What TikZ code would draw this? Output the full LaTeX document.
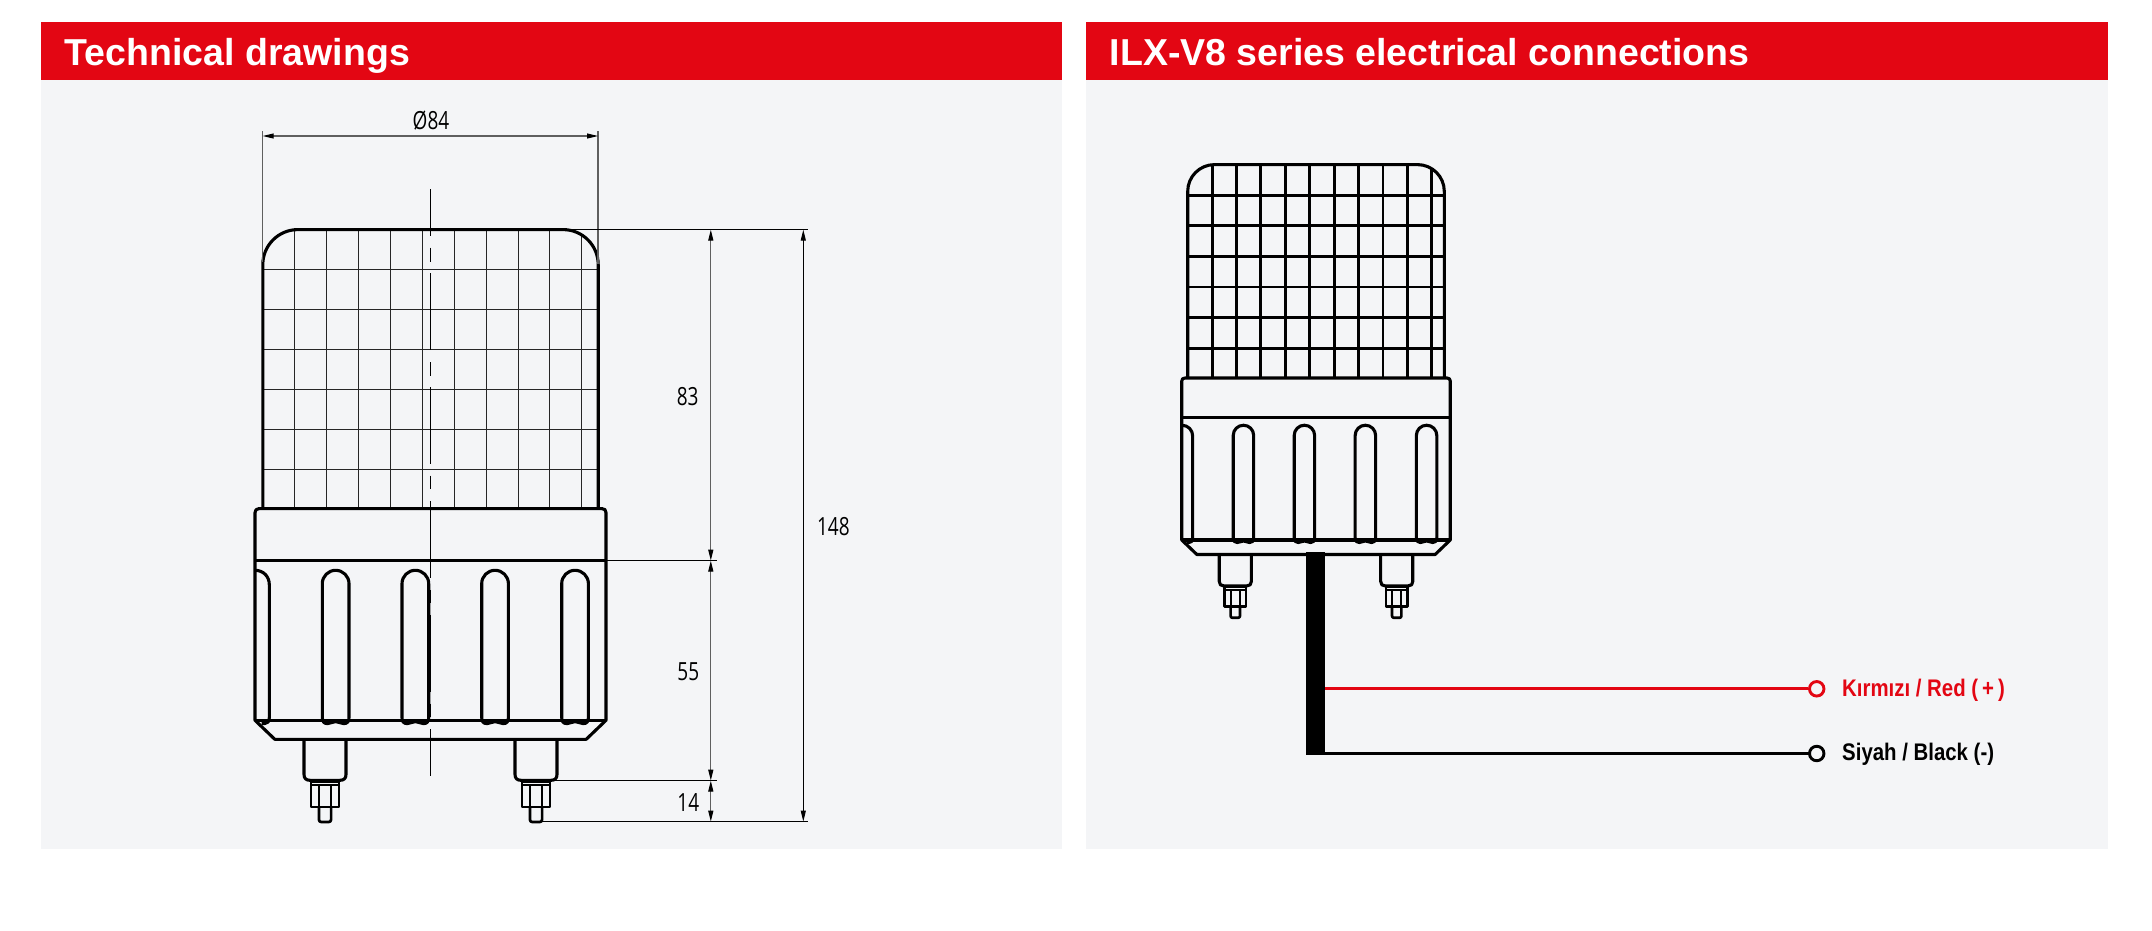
\documentclass[tikz,border=0pt]{standalone}
\usepackage{fontspec}
\usetikzlibrary{arrows.meta}
\setmainfont{Liberation Sans}
\newfontfamily\dimfont[FakeStretch=0.76]{Open Sans}
\newfontfamily\headfont{Liberation Sans}
\newfontfamily\wirefont[FakeStretch=0.85]{Liberation Sans}
\definecolor{brandred}{RGB}{227,6,19}
\definecolor{panelgrey}{RGB}{244,245,247}
\definecolor{dimgrey}{RGB}{95,95,95}
\tikzset{
  panel/.style={fill=panelgrey,draw=none},
  headbar/.style={fill=brandred,draw=none},
  headtext/.style={anchor=base west,inner sep=0pt,text=white,font=\headfont\bfseries\fontsize{37.5}{40}\selectfont},
  dimtext/.style={inner sep=0pt,text=black,font=\dimfont\fontsize{25}{27}\selectfont},
  wiretext/.style={anchor=base west,inner sep=0pt,font=\wirefont\bfseries\fontsize{24}{26}\selectfont},
  outline/.style={line width=3.1pt,black,line join=round},
  gridline/.style={black},
  extline/.style={line width=1pt,black},
  dimline/.style={line width=1pt,black,{Triangle[length=11pt,width=5pt,black]}-{Triangle[length=11pt,width=5pt,black]}},
  greydim/.style={line width=1.1pt,dimgrey,{Triangle[length=11pt,width=5pt,black]}-{Triangle[length=11pt,width=5pt,black]}},
  centreline/.style={line width=1pt,black},
  terminal/.style={circle,draw,line width=2.9pt,fill=panelgrey,minimum size=14.5pt,inner sep=0pt},
}
% lamp body in local coordinates: origin at centre of the dome top
\newcommand{\lampbody}{%
  \begin{scope}
    \clip (-167.7,279) -- (-167.7,35) .. controls (-167.7,15.7) and (-152,0) .. (-132.7,0)
      -- (132.7,0) .. controls (152,0) and (167.7,15.7) .. (167.7,35) -- (167.7,279) -- cycle;
    \foreach \g in {0,...,9} \draw[gridline] ({-135.8+\g*31.9},0) -- ({-135.8+\g*31.9},279);
    \foreach \g in {1,...,6} \draw[gridline] (-167.7,\g*40) -- (167.7,\g*40);
  \end{scope}
  \draw[outline] (-167.7,279) -- (-167.7,35) .. controls (-167.7,15.7) and (-152,0) .. (-132.7,0)
      -- (132.7,0) .. controls (152,0) and (167.7,15.7) .. (167.7,35) -- (167.7,279);
  % collar and base
  \draw[outline] (-175.5,490.7) -- (-175.5,283) .. controls (-175.5,280.5) and (-174,279) .. (-171.5,279)
      -- (171.5,279) .. controls (174,279) and (175.5,280.5) .. (175.5,283) -- (175.5,490.7)
      -- (155.7,509.7) -- (-155.7,509.7) -- cycle;
  \draw[outline] (-175.5,331) -- (175.5,331);
  \draw[outline] (-175.5,490.7) -- (175.5,490.7);
  % flutes
  \foreach \a in {-108.2,-28.5,51.2,131.2}{
    \draw[outline] (\a,488) -- (\a,354) .. controls (\a,346.6) and (\a+6,340.7) .. (\a+13.35,340.7)
      .. controls (\a+20.7,340.7) and (\a+26.7,346.6) .. (\a+26.7,354) -- (\a+26.7,488)
      .. controls (\a+26.7,492) and (\a+25,494) .. (\a+21.5,494)
      .. controls (\a+18,494) and (\a+17,492) .. (\a+13.35,492)
      .. controls (\a+9.7,492) and (\a+8.7,494) .. (\a+5.2,494)
      .. controls (\a+1.7,494) and (\a,492) .. (\a,488) -- cycle;
  }
  \draw[outline] (-175.5,340.7) .. controls (-167,340.7) and (-161.2,347) .. (-161.2,355) -- (-161.2,488)
      .. controls (-161.2,492) and (-163,494) .. (-166,494) -- (-169,494);
  % terminals
  \foreach \c in {-105.5,105.5}{
    \draw[outline] (\c-21,509.7) -- (\c-21,544.7) .. controls (\c-21,548.7) and (\c-19,550.7) .. (\c-15,550.7)
      -- (\c+15,550.7) .. controls (\c+19,550.7) and (\c+21,548.7) .. (\c+21,544.7) -- (\c+21,509.7);
    \draw[outline,line width=2.7pt] (\c-14,551.7) rectangle (\c+14,577.4);
    \draw[outline,line width=2.1pt] (\c-14,555.7) -- (\c+14,555.7);
    \draw[outline,line width=2.1pt] (\c-6.1,555.7) -- (\c-6.1,577.4) (\c+6.1,555.7) -- (\c+6.1,577.4);
    \draw[outline,line width=2.7pt] (\c-6.1,577.4) -- (\c-6.1,590) .. controls (\c-6.1,591.6) and (\c-5,592.4) .. (\c-3.5,592.4)
      -- (\c+3.5,592.4) .. controls (\c+5,592.4) and (\c+6.1,591.6) .. (\c+6.1,590) -- (\c+6.1,577.4);
  }
}
\begin{document}
\begin{tikzpicture}[x=1pt,y=-1pt]
  \useasboundingbox (0,0) rectangle (2152,930);
  \fill[white] (0,0) rectangle (2152,930);
  % panels
  \fill[panel] (41,22) rectangle (1062,848.5);
  \fill[panel] (1086,22) rectangle (2108,848.5);
  \fill[headbar] (41,22) rectangle (1062,80);
  \fill[headbar] (1086,22) rectangle (2108,80);
  \node[headtext] (titleL) at (64.5,65) {Technical drawings};
  \node[headtext] (titleR) at (1109.5,65) {ILX-V8 series electrical connections};

  % left lamp
  \begin{scope}[shift={(430.5,229.6)},gridline/.append style={line width=1pt,black!85}]
    \lampbody
  \end{scope}
  % centre line
  \foreach \ya/\yb in {189.3/236,247.7/261.7,273.3/350,362.3/375.7,387.3/464,475.7/489,501/578,590/603,615/692,703.7/717,729/775.7}
    \draw[centreline] (430.4,\ya) -- (430.4,\yb);

  % dimension points
  \coordinate (dL) at (262.7,136);
  \coordinate (dR) at (598,136);
  \coordinate (a0) at (710.8,229.6);
  \coordinate (a1) at (710.8,560.6);
  \coordinate (a2) at (710.8,780.6);
  \coordinate (a3) at (710.8,821.6);
  \coordinate (b0) at (803.3,229.6);
  \coordinate (b3) at (803.3,821.6);
  % extension lines
  \draw[line width=1.1pt,dimgrey] (262.7,131) -- (262.7,262);
  \draw[line width=1.1pt,dimgrey] (598,131) -- (598,264);
  \draw[extline] (563,229.6) -- (808,229.6);
  \draw[extline] (606,560.6) -- (716.7,560.6);
  \draw[extline] (555,780.6) -- (716.7,780.6);
  \draw[extline] (541,821.6) -- (808,821.6);
  % dimension lines
  \draw[greydim] (dL) -- (dR);
  \draw[greydim] (a0) -- (a1);
  \draw[greydim] (a1) -- (a2);
  \draw[greydim] (a2) -- (a3);
  \draw[line width=1pt,black,{Triangle[length=11pt,width=5pt]}-{Triangle[length=11pt,width=5pt]}] (b0) -- (b3);
  % dimension labels
  \node[dimtext] (d84) at (431,121) {Ø84};
  \node[dimtext] (d83) at (687.7,396.7) {83};
  \node[dimtext] (d148) at (833.3,526.7) {148};
  \node[dimtext] (d55) at (688.3,671.7) {55};
  \node[dimtext] (d14) at (688.3,802.7) {14};

  % right lamp
  \begin{scope}[shift={(1316,164.6)},scale=0.765,gridline/.append style={line width=2.9pt}]
    \lampbody
  \end{scope}
  % cable and wires
  \fill[black] (1306,552.3) rectangle (1325.3,755);
  \coordinate (cableRed) at (1325.3,688.8);
  \coordinate (cableBlack) at (1325.3,753.5);
  \node[terminal,draw=brandred] (termRed) at (1816.7,688.8) {};
  \node[terminal,draw=black] (termBlack) at (1816.7,753.5) {};
  \draw[line width=2.8pt,brandred] (cableRed) -- (termRed);
  \draw[line width=2.8pt,black] (cableBlack) -- (termBlack);
  \node[wiretext,text=brandred] (labRed) at (1842,696.2) {Kırmızı / Red (\kern4pt+\kern4pt)};
  \node[wiretext,text=black] (labBlack) at (1842,760.5) {Siyah / Black (-)};
\end{tikzpicture}
\end{document}
